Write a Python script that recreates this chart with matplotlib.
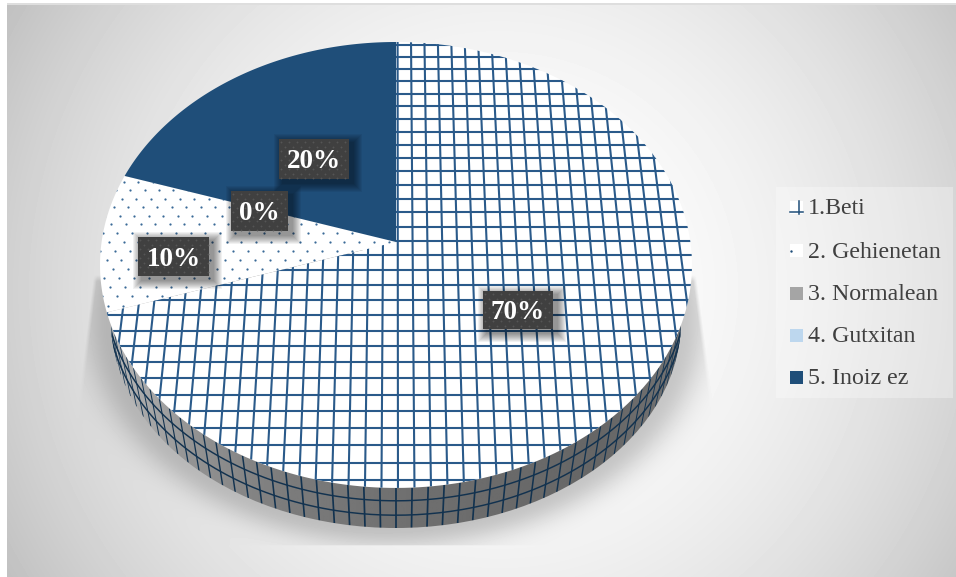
import numpy as np
import matplotlib
matplotlib.use("Agg")
import matplotlib.pyplot as plt
from matplotlib.patches import Polygon, Rectangle, Ellipse
from matplotlib.collections import LineCollection

categories = ["1.Beti", "2. Gehienetan", "3. Normalean", "4. Gutxitan", "5. Inoiz ez"]
values = [70, 10, 0, 0, 20]
percent_labels = ["70%", "10%", "0%", None, "20%"]

NAVY = "#1f4e79"
swatch_colors = ["white", "white", "#a5a5a5", "#bdd7ee", NAVY]
fill_colors = ["white", "white", "#a5a5a5", "#bdd7ee", NAVY]
SERIF = "Liberation Serif"

W, H = 956, 577
fig = plt.figure(figsize=(W / 100, H / 100), dpi=100)
ax = fig.add_axes([0, 0, 1, 1])
ax.set_xlim(0, W)
ax.set_ylim(H, 0)
ax.axis("off")

# --- perspective of the pie's top face
CX, CY0 = 396.0, 242.0
K, A, B = 0.103, 220.6, 294.4


def project(u, v):
    u, v = np.asarray(u, float), np.asarray(v, float)
    w = 1 + K * v
    return CX + B * u / w, CY0 - A * v / w


# --- background with shadow (pixel raster)
yy, xx = np.mgrid[0:H, 0:W] + 0.5
dist = np.hypot(xx - 500, yy - 290) / 551
bg = 1 - 0.23 * np.clip(dist, 0, 1.1) ** 2

RX2, RY2, CY2 = 285.0, 207.0, 321.0
r = np.hypot((xx - CX) / RX2, (yy - CY2) / RY2)
d = np.clip(r - 1, 0, None) * 235
sh = 0.20 * np.exp(-(d / 24) ** 2)
left_edge = 93 + (yy - 280) * (80 - 93) / (387 - 280)
right_edge = 697 + (yy - 280) * (711 - 697) / (387 - 280)
mask = np.clip((xx - left_edge) / 4, 0, 1) * np.clip((right_edge - xx) / 4, 0, 1)
mask *= np.clip((yy - 275) / 6, 0, 1) * np.clip((546 - yy) / 1.5, 0, 1)
img = bg * (1 - sh * mask)
img[:, :7] = 1.0
img[:3, :] = 1.0
img[3:5, 7:] = 0.87
ax.imshow(img, extent=(0, W, H, 0), cmap="gray", vmin=0, vmax=1, aspect="auto",
          interpolation="bilinear", zorder=0)
ax.set_xlim(0, W)
ax.set_ylim(H, 0)

# --- legend panel behind its entries
ax.add_patch(Rectangle((776, 187), 177, 211, fc="white", ec="none", alpha=0.3, zorder=1))

# --- side wall
wall = Ellipse((CX, CY2), 2 * RX2, 2 * RY2, fc="none", ec="none", zorder=2)
ax.add_patch(wall)
gx = np.linspace(100, 692, 200)
gv = np.interp(gx, [100, 135, 190, 280, 396, 600, 692], [.74, .68, .58, .49, .44, .40, .46])
grad = ax.imshow(gv[None, :], extent=(100, 692, 540, 250), cmap="gray", vmin=0, vmax=1,
                 aspect="auto", zorder=2)
grad.set_clip_path(wall)
ax.set_xlim(0, W)
ax.set_ylim(H, 0)

phis = np.arange(-32, 33) * 0.0545 + 0.0
phis = phis[np.abs(phis) < np.pi / 2 + 0.05]
tx, ty = CX + 296 * np.sin(phis), 265 + 223 * np.cos(phis)
bx, by = CX + RX2 * np.sin(phis), CY2 + RY2 * np.cos(phis)
segs = [[(a, b), (c, e)] for a, b, c, e in zip(tx, ty, bx, by)]
widths = 0.25 + 1.0 * np.clip(np.cos(phis), 0, 1) ** 1.2
lc = LineCollection(segs, colors="#12324f", linewidths=widths, zorder=3)
ax.add_collection(lc)
lc.set_clip_path(wall)
ph = np.linspace(-np.pi / 2, np.pi / 2, 240)
for f in (0.32, 0.68):
    px = CX + (296 + (RX2 - 296) * f) * np.sin(ph)
    py = (265 + (CY2 - 265) * f) + (223 + (RY2 - 223) * f) * np.cos(ph)
    ln, = ax.plot(px, py, color="#12324f", lw=1.05, zorder=3)
    ln.set_clip_path(wall)

# --- top face wedges from the values
edges = np.concatenate([[0], np.cumsum(values)]) / np.sum(values) * 2 * np.pi
patches = []
for i, val in enumerate(values):
    if val == 0:
        patches.append(None)
        continue
    th = np.linspace(edges[i], edges[i + 1], 200)
    x, y = project(np.sin(th), np.cos(th))
    ax0, ay0 = project(0, 0)
    poly = Polygon(np.column_stack([np.r_[ax0, x], np.r_[ay0, y]]), closed=True,
                   fc=fill_colors[i], ec="none", zorder=4)
    ax.add_patch(poly)
    patches.append(poly)

# grid hatch on wedge 0
DU, DV = 0.0503, 0.0652
grid_segs = []
for k in range(-22, 23):
    u = 0.006 + DU * k
    grid_segs.append(np.column_stack(project([u, u], [-1.05, 1.05])))
for k in range(-14, 31):
    v = 0.853 - DV * k
    grid_segs.append(np.column_stack(project([-1.05, 1.05], [v, v])))
grid = LineCollection(grid_segs, colors="#2a5a8a", linewidths=1.5, zorder=5)
ax.add_collection(grid)
grid.set_clip_path(patches[0])

# dot hatch on wedge 1
du_d, dv_d = 0.05, 0.04
pts = []
for row, v in enumerate(np.arange(-0.6, 0.5, dv_d)):
    off = du_d / 2 * (row % 2)
    for u in np.arange(-1.05, 0.0, du_d):
        pts.append((u + off, v))
pts = np.array(pts)
px, py = project(pts[:, 0], pts[:, 1])
dots = ax.scatter(px, py, s=2.6, color="#3a6a98", linewidths=0, zorder=5)
dots.set_clip_path(patches[1])

# --- percentage labels
label_boxes = {0: (483, 291, 70, 38), 1: (138, 237, 71, 39), 2: (231, 191, 57, 40), 4: (279, 139, 70, 40)}
for i, text in enumerate(percent_labels):
    if text is None:
        continue
    bxx, byy, bw, bh = label_boxes[i]
    for g in range(9, 0, -1):
        ax.add_patch(Rectangle((bxx + 4 - g, byy + 4 - g), bw + 2 * g, bh + 2 * g,
                               fc="black", ec="none", alpha=0.055, zorder=6))
    box = Rectangle((bxx, byy), bw, bh, fc="#404040", ec="none", zorder=7)
    ax.add_patch(box)
    gxs, gys = [], []
    for rr, yy_ in enumerate(np.arange(byy + 3, byy + bh, 4.5)):
        for xx_ in np.arange(bxx + 2 + 4 * (rr % 2), bxx + bw, 8.0):
            gxs.append(xx_)
            gys.append(yy_)
    ax.scatter(gxs, gys, s=1.8, color="#555555", linewidths=0, zorder=7.5)
    ax.text(bxx + bw / 2, byy + bh / 2 + 2.5, text, color="white", fontsize=19.5,
            fontweight="bold", family=SERIF, ha="center", va="center", zorder=8)

# --- legend entries
ys = [207.5, 250.5, 293, 335, 377]
for name, col, y in zip(categories, swatch_colors, ys):
    ax.add_patch(Rectangle((790, y - 6.5), 13, 13, fc=col, ec="none", zorder=3))
    ax.text(808, y + 1.5, name, color="#404040", fontsize=17.2, family=SERIF, ha="left",
            va="center", zorder=4)
ax.plot([799, 799], [201, 214], color=NAVY, lw=1.1, zorder=4)
ax.plot([790, 803], [212, 212], color=NAVY, lw=1.1, zorder=4)
ax.scatter([791.5], [251], s=3, color=NAVY, linewidths=0, zorder=4)

fig.savefig("out.png", dpi=100)
